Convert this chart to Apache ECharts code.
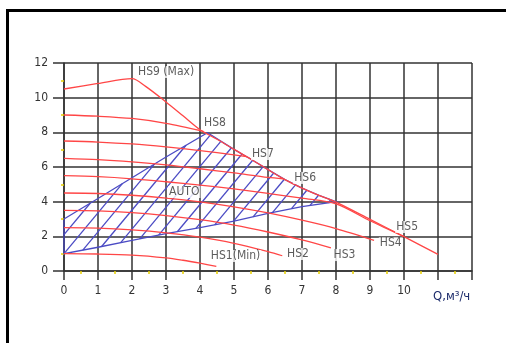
<!DOCTYPE html>
<html>
<head>
<meta charset="utf-8">
<script src="https://cdn.jsdelivr.net/npm/echarts@6/dist/echarts.min.js"></script>
<style>
  html, body { margin: 0; padding: 0; background: #fff; }
  #chart { width: 506px; height: 343px; }
</style>
</head>
<body>
<div id="chart"></div>
<script>
// speed curves, [Q m3/h, H m]
const hs9 = [[0, 10.5], [1, 10.82], [2, 11.1], [2.4, 10.65], [3, 9.75], [3.5, 8.95], [4, 8.15], [4.5, 7.6], [5, 7.02], [5.5, 6.45], [6, 5.85], [6.5, 5.27], [7, 4.78], [7.5, 4.36], [8, 3.97], [9, 2.98], [10, 1.98], [11, 0.96]];
const hs8 = [[0, 9.0], [1, 8.93], [2, 8.8], [3, 8.52], [4.1, 8.06]];
const hs7 = [[0, 7.5], [1, 7.44], [2, 7.33], [3, 7.16], [4, 6.95], [5, 6.7], [5.37, 6.6]];
const hs6 = [[0, 6.5], [1, 6.42], [2, 6.29], [3, 6.12], [4, 5.9], [5, 5.66], [6, 5.4], [6.45, 5.32]];
const hs5 = [[0, 5.5], [1, 5.44], [2, 5.32], [3, 5.15], [4, 4.96], [5, 4.74], [6, 4.48], [7, 4.2], [8, 3.87], [9, 2.9], [10, 1.98]];
const hs4 = [[0, 4.5], [1, 4.47], [2, 4.37], [3, 4.21], [4, 3.99], [5, 3.7], [6, 3.35], [7, 2.93], [8, 2.45], [9.12, 1.77]];
const hs3 = [[0, 3.5], [1, 3.47], [2, 3.37], [3, 3.2], [4, 2.96], [5, 2.65], [6, 2.25], [7, 1.79], [7.85, 1.33]];
const hs2 = [[0, 2.5], [1, 2.47], [2, 2.37], [3, 2.2], [4, 1.95], [5, 1.6], [6, 1.12], [6.42, 0.88]];
const hs1 = [[0, 1.0], [1, 0.98], [2, 0.92], [3, 0.76], [3.5, 0.62], [4, 0.45], [4.48, 0.27]];

// AUTO zone outline: top edge, along max curve, bottom edge back to start
const autoOutline = [[0, 3.0], [1, 4.18], [2, 5.38], [3, 6.58], [4.22, 7.98], [5, 7.02], [5.5, 6.45], [6, 5.85], [6.5, 5.27], [7, 4.78], [7.5, 4.36], [8, 4.0],
  [7, 3.72], [6, 3.32], [5, 2.88], [4, 2.5], [3, 2.15], [2, 1.77], [1, 1.37], [0, 1.0]];

// curve labels, [left Q, centre H]
const labelNames = ['HS9 (Max)', 'HS8', 'HS7', 'HS6', 'AUTO', 'HS5', 'HS4', 'HS3', 'HS2', 'HS1(Min)'];
const labelPos = [[2.15, 11.48], [4.09, 8.54], [5.5, 6.75], [6.74, 5.37], [3.06, 4.56], [9.74, 2.54], [9.26, 1.6], [7.9, 0.92], [6.53, 0.98], [4.29, 0.87]];

const xLabelMax = 10;
const axisTitle = 'Q,м³/ч';

const font = "'DejaVu Sans Condensed', 'Liberation Sans Narrow', sans-serif";
const red = '#ff4646';
const blue = '#4b4bc4';
const gridColor = '#333';

// hatching: pixel slope and vertical spacing of the diagonal lines
const hatchSlope = 1.2;
const hatchStep = 19;

const chart = echarts.init(document.getElementById('chart'));

function curve(name, data) {
  return {
    name: name,
    type: 'line',
    data: data,
    smooth: 0.3,
    symbol: 'none',
    z: 3,
    lineStyle: { color: red, width: 1.3 },
  };
}

// clip parallel diagonals to the zone outline (pixel space)
function hatchLines(pts, origin) {
  const m = hatchSlope;
  const cs = pts.map((p) => p[1] + m * p[0]);
  const c0 = origin[1] + m * origin[0];
  const kMin = Math.ceil((Math.min(...cs) - c0) / hatchStep);
  const kMax = Math.floor((Math.max(...cs) - c0) / hatchStep);
  const out = [];
  for (let k = kMin; k <= kMax; k++) {
    const c = c0 + k * hatchStep;
    const xs = [];
    for (let i = 0; i < pts.length; i++) {
      const a = pts[i];
      const b = pts[(i + 1) % pts.length];
      const fa = a[1] + m * a[0] - c;
      const fb = b[1] + m * b[0] - c;
      if ((fa < 0) !== (fb < 0)) {
        const t = fa / (fa - fb);
        xs.push(a[0] + t * (b[0] - a[0]));
      }
    }
    xs.sort((u, v) => u - v);
    for (let j = 0; j + 1 < xs.length; j += 2) {
      out.push({
        type: 'line',
        shape: { x1: xs[j], y1: c - m * xs[j], x2: xs[j + 1], y2: c - m * xs[j + 1] },
        style: { stroke: blue, lineWidth: 1.3 },
      });
    }
  }
  return out;
}

chart.setOption({
  animation: false,
  grid: { left: 64, top: 63, width: 408, height: 208 },
  xAxis: {
    type: 'value',
    min: 0,
    max: 12,
    interval: 1,
    axisLine: { lineStyle: { color: gridColor, width: 1.5 } },
    axisTick: { length: 9, lineStyle: { color: gridColor, width: 1.5 } },
    minorTick: { show: true, splitNumber: 2, length: 3, lineStyle: { color: '#e8cf00', width: 1.5 } },
    splitLine: { lineStyle: { color: gridColor, width: 1.5 } },
    axisLabel: {
      margin: 14,
      fontSize: 12,
      color: '#333',
      fontFamily: font,
      formatter: (v) => (v <= xLabelMax ? String(v) : ''),
    },
  },
  yAxis: {
    type: 'value',
    min: 0,
    max: 12,
    interval: 2,
    axisLine: { lineStyle: { color: gridColor, width: 1.5 } },
    axisTick: { length: 11, lineStyle: { color: gridColor, width: 1.5 } },
    minorTick: { show: true, splitNumber: 2, length: 3, lineStyle: { color: '#e8cf00', width: 1.5 } },
    splitLine: { lineStyle: { color: gridColor, width: 1.5 } },
    axisLabel: { margin: 16, fontSize: 12, color: '#333', fontFamily: font },
  },
  series: [
    {
      name: 'AUTO',
      type: 'custom',
      z: 2,
      data: autoOutline,
      encode: { x: 0, y: 1 },
      renderItem: function (params, api) {
        if (params.dataIndex !== 0) return;
        const pts = autoOutline.map((p) => api.coord(p));
        const origin = api.coord([0, 1]);
        return {
          type: 'group',
          children: [
            {
              type: 'polygon',
              shape: { points: pts },
              style: { fill: 'none', stroke: blue, lineWidth: 1.3 },
            },
          ].concat(hatchLines(pts, origin)),
        };
      },
    },
    curve('HS9', hs9),
    curve('HS8', hs8),
    curve('HS7', hs7),
    curve('HS6', hs6),
    curve('HS5', hs5),
    curve('HS4', hs4),
    curve('HS3', hs3),
    curve('HS2', hs2),
    curve('HS1', hs1),
    {
      name: 'labels',
      type: 'scatter',
      z: 4,
      symbolSize: 0,
      itemStyle: { color: 'transparent' },
      data: labelPos.map((p, i) => ({ value: p, name: labelNames[i] })),
      label: {
        show: true,
        position: 'right',
        distance: 0,
        formatter: (p) => p.name,
        fontSize: 12,
        fontFamily: font,
        color: '#333',
        backgroundColor: '#fff',
        padding: [0, 1],
      },
    },
  ],
  graphic: [
    {
      type: 'rect',
      shape: { x: 7.5, y: 10.5, width: 600, height: 400 },
      style: { fill: 'none', stroke: '#000', lineWidth: 3 },
    },
    {
      type: 'text',
      x: 433,
      y: 297,
      style: { text: axisTitle, fill: '#1c2b6b', font: '13px ' + font, verticalAlign: 'middle' },
    },
  ],
});
</script>
</body>
</html>
